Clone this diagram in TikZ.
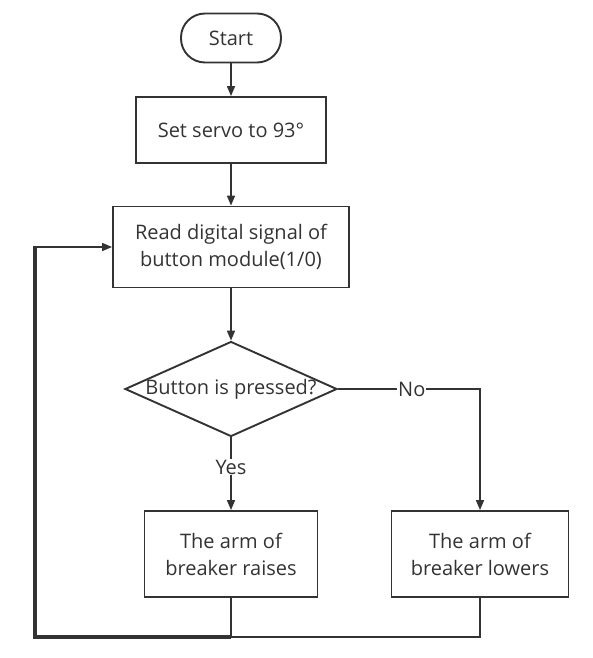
\documentclass[tikz,border=0pt]{standalone}
\usepackage{fontspec}
\setmainfont{Open Sans}
\usetikzlibrary{arrows.meta,shapes.geometric}
\definecolor{ink}{HTML}{333333}
\begin{document}
\begin{tikzpicture}[x=1pt, y=-1pt, every node/.style={text=ink, font=\fontsize{20}{27}\selectfont},
    box/.style={draw=ink, line width=1.9pt, rectangle, align=center},
    link/.style={draw=ink, line width=1.6pt, -{Triangle[length=10pt, width=8pt]}},
    tag/.style={fill=white, inner sep=1pt}]
        \useasboundingbox (0,0) rectangle (592,658);
        % --- Draw the blocks ---
        \node[box, rounded corners=24pt, minimum width=100, minimum height=49] (start) at (231,38) {Start};
        \node[box, minimum width=190, minimum height=66] (servo) at (231,130) {Set servo to 93°};
        \node[box, minimum width=236, minimum height=81] (read) at (231,247) {Read digital signal of\\button module(1/0)};
        \node[diamond, draw=ink, line width=1.9pt, minimum width=212, minimum height=95, inner sep=0pt] (ask) at (231,389) {};
        \node (asktext) at (ask) {Button is pressed?};
        \node[box, minimum width=173, minimum height=86] (raise) at (231,554) {The arm of\\breaker raises};
        \node[box, minimum width=177, minimum height=86] (lower) at (480,554) {The arm of\\breaker lowers};
        % ---

        % --- Draw the connectors ---
        \coordinate (turn) at (480,389);
        \coordinate (back) at (35,637);
        \coordinate (join) at (231,637);
        \coordinate (top) at (35,247);
        \draw[link] (start) -- (servo);
        \draw[link] (servo) -- (read);
        \draw[link] (read) -- (ask);
        \draw[link] (ask.south) -- (raise.north) node[pos=0.41, tag] {Yes};
        \draw[link] (ask.east) -- (turn) node[pos=0.52, tag] {No} -- (lower.north);
        \draw[draw=ink, line width=1.6pt] (lower.south) |- (join) -- (raise.south);
        \draw[draw=ink, line width=3.2pt] (join) -- (back) -- ([yshift=0.8pt]top);
        \draw[link] ([xshift=-1.6pt]top) -- (read.west);
        % ---
\end{tikzpicture}
\end{document}
